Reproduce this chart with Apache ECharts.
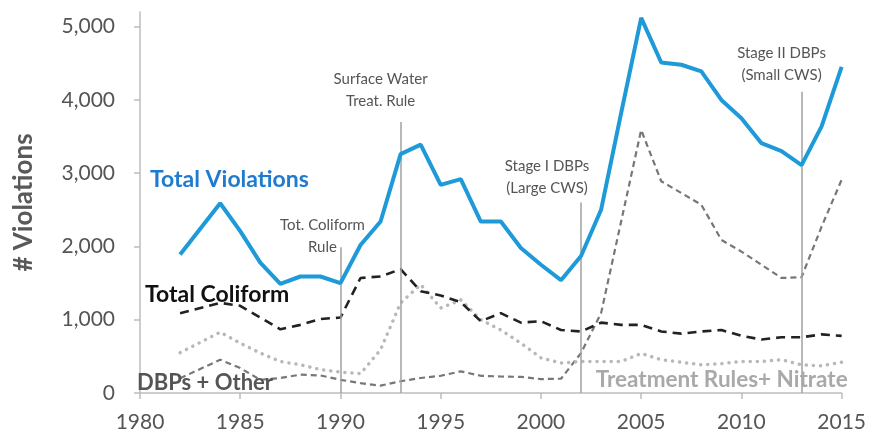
<!DOCTYPE html>
<html>
<head>
<meta charset="utf-8">
<script src="https://cdn.jsdelivr.net/npm/echarts@6/dist/echarts.min.js"></script>
<style>
  html, body { margin: 0; padding: 0; background: #fff; }
  #main { width: 869px; height: 437px; }
</style>
</head>
<body>
<div id="main"></div>
<script>
// 年份（1983 没有数据点）
const years = [1982, 1984, 1985, 1986, 1987, 1988, 1989, 1990, 1991, 1992, 1993, 1994, 1995, 1996, 1997, 1998, 1999,
  2000, 2001, 2002, 2003, 2004, 2005, 2006, 2007, 2008, 2009, 2010, 2011, 2012, 2013, 2014, 2015];
const totalViolations = [1890, 2590, 2210, 1780, 1490, 1590, 1590, 1500, 2020, 2340, 3260, 3390, 2840, 2920, 2340, 2340, 1980,
  1750, 1540, 1870, 2500, 3820, 5120, 4510, 4480, 4390, 4000, 3750, 3410, 3300, 3110, 3640, 4450];
const totalColiform = [1090, 1230, 1190, 1030, 870, 930, 1010, 1030, 1570, 1590, 1690, 1390, 1330, 1240, 980, 1090, 960,
  980, 860, 840, 960, 930, 930, 840, 810, 840, 860, 780, 730, 760, 760, 800, 780];
const treatmentNitrate = [550, 830, 680, 545, 430, 385, 320, 285, 265, 590, 1230, 1480, 1160, 1270, 1000, 860, 680,
  480, 410, 430, 430, 430, 540, 455, 420, 385, 400, 430, 430, 455, 385, 370, 420];
const dbpsOther = [200, 455, 340, 180, 205, 250, 240, 180, 135, 100, 160, 205, 235, 295, 235, 225, 220,
  190, 195, 545, 1090, 2340, 3590, 2890, 2730, 2570, 2090, 1930, 1750, 1570, 1580, 2270, 2910];

// 法规竖线
const ruleYears = [1990, 1993, 2002, 2013];
const ruleTops = [1990, 3700, 2600, 4110];
const ruleLabels = ['Tot. Coliform\nRule', 'Surface Water\nTreat. Rule', 'Stage I DBPs\n(Large CWS)', 'Stage II DBPs\n(Small CWS)'];

const yTicks = [0, 1000, 2000, 3000, 4000, 5000];
const FONT = 'Lato, "Open Sans", sans-serif';

const pairs = (vals) => years.map((y, i) => [y, vals[i]]);

const chart = echarts.init(document.getElementById('main'));

const option = {
  animation: false,
  grid: { left: 140, right: 26, top: 12, bottom: 44 },
  xAxis: {
    type: 'value',
    min: 1980,
    max: 2015,
    interval: 5,
    axisLine: { lineStyle: { color: '#bdbdbd', width: 1.5 } },
    axisTick: { show: true, length: 6, lineStyle: { color: '#bdbdbd', width: 1.5 } },
    axisLabel: { color: '#555', fontSize: 21, fontFamily: FONT, margin: 19, formatter: (v) => String(v) },
    splitLine: { show: false }
  },
  yAxis: {
    type: 'value',
    min: 0,
    max: 5200,
    name: '# Violations',
    nameLocation: 'middle',
    nameGap: 103,
    nameTextStyle: { color: '#595959', fontSize: 26, fontWeight: 'bold', fontFamily: FONT },
    axisLine: { show: true, lineStyle: { color: '#bdbdbd', width: 1.5 } },
    axisTick: { show: true, length: 6, customValues: yTicks, lineStyle: { color: '#bdbdbd', width: 1.5 } },
    axisLabel: {
      color: '#555', fontSize: 21, fontFamily: FONT, margin: 25,
      customValues: yTicks,
      formatter: (v) => v.toLocaleString('en-US')
    },
    splitLine: { show: false }
  },
  series: [
    {
      name: 'DBPs + Other',
      type: 'line',
      data: pairs(dbpsOther),
      symbol: 'none',
      lineStyle: { color: '#777', width: 2.2, type: [6, 4] },
      z: 2,
      markLine: {
        silent: true,
        symbol: 'none',
        label: { show: false },
        lineStyle: { color: '#a0a0a0', width: 1.5, type: 'solid' },
        data: ruleYears.map((y, i) => [{ coord: [y, 0] }, { coord: [y, ruleTops[i]] }])
      }
    },
    {
      name: 'Treatment Rules+ Nitrate',
      type: 'line',
      data: pairs(treatmentNitrate),
      symbol: 'none',
      lineStyle: { color: '#b8b8b8', width: 3.5, type: [0.1, 7], cap: 'round' },
      z: 3
    },
    {
      name: 'Total Coliform',
      type: 'line',
      data: pairs(totalColiform),
      symbol: 'none',
      lineStyle: { color: '#222', width: 2.6, type: [9, 6] },
      z: 4
    },
    {
      name: 'Total Violations',
      type: 'line',
      data: pairs(totalViolations),
      symbol: 'none',
      lineStyle: { color: '#1e9ad8', width: 4 },
      z: 5
    }
  ]
};

chart.setOption(option);

// 文字注释：按数据坐标定位
function px(x, y) {
  return chart.convertToPixel({ xAxisIndex: 0, yAxisIndex: 0 }, [x, y]);
}
const ruleOffsets = [[-18, 11], [-20, -10], [-34, -3], [-20, -6]];
const graphics = ruleYears.map((y, i) => {
  const p = px(y, ruleTops[i]);
  return {
    type: 'text',
    x: p[0] + ruleOffsets[i][0],
    y: p[1] + ruleOffsets[i][1],
    z: 10,
    style: {
      text: ruleLabels[i],
      fill: '#555',
      font: '15px ' + FONT,
      lineHeight: 22,
      align: 'center',
      verticalAlign: 'bottom'
    }
  };
});

const seriesTags = [
  { text: 'Total Violations', at: [1980.5, 2910], color: '#1f7bd0', align: 'left', size: 23 },
  { text: 'Total Coliform', at: [1980.25, 1340], color: '#111', align: 'left', size: 23 },
  { text: 'DBPs + Other', at: [1979.85, 140], color: '#555', align: 'left', size: 22 },
  { text: 'Treatment Rules+ Nitrate', at: [2015.3, 180], color: '#a9a9a9', align: 'right', size: 22.5 }
];
seriesTags.forEach((t) => {
  const p = px(t.at[0], t.at[1]);
  graphics.push({
    type: 'text',
    x: p[0],
    y: p[1],
    z: 10,
    style: {
      text: t.text,
      fill: t.color,
      font: 'bold ' + t.size + 'px ' + FONT,
      align: t.align,
      verticalAlign: 'middle'
    }
  });
});

chart.setOption({ graphic: graphics });
</script>
</body>
</html>
